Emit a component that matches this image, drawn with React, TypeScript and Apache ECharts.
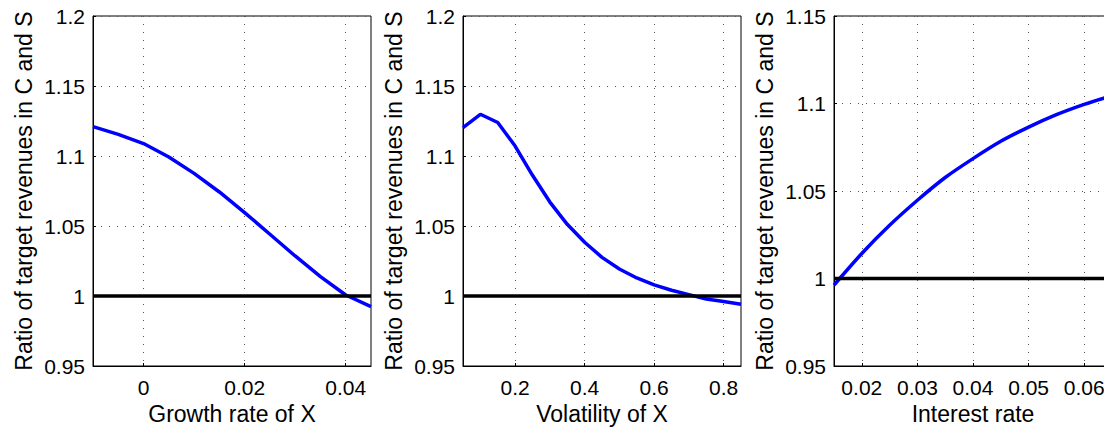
import { useEffect, useRef } from "react";
import * as echarts from "echarts";

// Panel 1: growth rate of X
const growthRate = [-0.01, -0.005, 0, 0.005, 0.01, 0.015, 0.02, 0.025, 0.03, 0.035, 0.04, 0.045];
const ratioGrowth = [1.121, 1.1155, 1.1089, 1.0993, 1.0876, 1.0743, 1.0596, 1.0441, 1.0286, 1.0139, 1.0007, 0.9924];
const growthTicks = [0, 0.02, 0.04];

// Panel 2: volatility of X
const volatility = [0.05, 0.1, 0.15, 0.2, 0.25, 0.3, 0.35, 0.4, 0.45, 0.5, 0.55, 0.6, 0.65, 0.7, 0.75, 0.8, 0.85];
const ratioVolatility = [1.1203, 1.1298, 1.1239, 1.1071, 1.0862, 1.0671, 1.0512, 1.0384, 1.0276, 1.0193, 1.0129, 1.0079, 1.0041, 1.001, 0.9979, 0.996, 0.9941];
const volatilityTicks = [0.2, 0.4, 0.6, 0.8];

// Panel 3: interest rate
const interestRate = [0.015, 0.02, 0.025, 0.03, 0.035, 0.04, 0.045, 0.05, 0.055, 0.06, 0.065];
const ratioInterest = [0.9962, 1.0143, 1.0304, 1.0447, 1.0577, 1.0685, 1.0784, 1.0865, 1.0936, 1.0995, 1.1045];
const interestTicks = [0.02, 0.03, 0.04, 0.05, 0.06];

const xTitles = ["Growth rate of X", "Volatility of X", "Interest rate"];
const yTitle = "Ratio of target revenues in C and S";
const yMax = [1.2, 1.2, 1.15];
const yMin = 0.95;
const yStep = 0.05;
const referenceLevel = 1;

const FONT = "Liberation Sans";
const fmt = (v: number) => String(parseFloat(Number(v).toFixed(4)));

export default function App() {
  const ref = useRef<HTMLDivElement>(null);
  useEffect(() => {
    if (!ref.current) return;
    const chart = echarts.init(ref.current, null, { renderer: "svg" });
    const xs = [growthRate, volatility, interestRate];
    const ys = [ratioGrowth, ratioVolatility, ratioInterest];
    const ticks = [growthTicks, volatilityTicks, interestTicks];
    const lefts = [93, 463, 834];
    const gridLine = { show: true, lineStyle: { color: "#555", width: 1, type: [1, 7] as any } };
    const option: any = {
      animation: false,
      backgroundColor: "#fff",
      textStyle: { fontFamily: FONT },
      grid: lefts.map((l) => ({
        left: l,
        top: 16,
        width: 278,
        height: 350,
        containLabel: false,
        outerBoundsMode: "none",
        show: true,
        borderColor: "#000",
        borderWidth: 1,
        backgroundColor: "transparent",
      })),
      xAxis: xs.map((x, i) => ({
        type: "value",
        gridIndex: i,
        min: x[0],
        max: x[x.length - 1],
        name: xTitles[i],
        nameLocation: "middle",
        nameGap: 33,
        nameTextStyle: { fontSize: 23, color: "#000", fontFamily: FONT },
        axisLine: { show: true, onZero: false, lineStyle: { color: "#000", width: 1 } },
        axisTick: { show: true, inside: true, length: 3, customValues: ticks[i], lineStyle: { color: "#000" } },
        axisLabel: { customValues: ticks[i], formatter: fmt, fontSize: 21, color: "#000", margin: 11, fontFamily: FONT, showMinLabel: true, showMaxLabel: true },
        splitLine: gridLine,
      })),
      yAxis: xs.map((_, i) => ({
        type: "value",
        gridIndex: i,
        min: yMin,
        max: yMax[i],
        interval: yStep,
        name: yTitle,
        nameLocation: "middle",
        nameRotate: 90,
        nameGap: 58,
        nameTextStyle: { fontSize: 23, color: "#000", fontFamily: FONT },
        axisLine: { show: true, onZero: false, lineStyle: { color: "#000", width: 1 } },
        axisTick: { show: true, inside: true, length: 3, lineStyle: { color: "#000" } },
        axisLabel: { formatter: fmt, fontSize: 21, color: "#000", margin: 8, fontFamily: FONT },
        splitLine: gridLine,
      })),
      series: [
        ...xs.map((x, i) => ({
          type: "line",
          xAxisIndex: i,
          yAxisIndex: i,
          data: x.map((v, j) => [v, ys[i][j]]),
          showSymbol: false,
          smooth: i === 2 ? 0.3 : false,
          lineStyle: { color: "#0000ff", width: 3.5 },
          z: 3,
        })),
        ...xs.map((x, i) => ({
          type: "line",
          xAxisIndex: i,
          yAxisIndex: i,
          data: [
            [x[0], referenceLevel],
            [x[x.length - 1], referenceLevel],
          ],
          showSymbol: false,
          lineStyle: { color: "#000", width: 3.5 },
          z: 4,
        })),
      ],
    };
    chart.setOption(option);
    return () => chart.dispose();
  }, []);
  return (
    <div style={{ position: "fixed", left: 0, top: 0, width: 1104, height: 427, overflow: "hidden", background: "#fff" }}>
      <div ref={ref} style={{ width: 1120, height: 427 }} />
    </div>
  );
}
